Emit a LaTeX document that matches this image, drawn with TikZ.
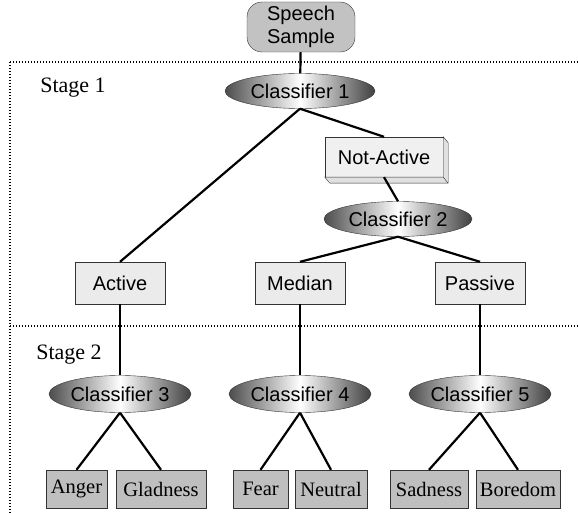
\documentclass[tikz,border=0pt]{standalone}
\usepackage{fontspec}
\setmainfont{Liberation Serif}
\setsansfont{Liberation Sans}
\usetikzlibrary{shapes.geometric}
\begin{document}
\begin{tikzpicture}[x=1pt,y=-1pt]
	\tikzstyle{classifier}=[ellipse,draw=black!80,left color=black!70,right color=black!75,middle color=white,minimum width=148pt,minimum height=35pt,inner sep=0pt,font=\sffamily\fontsize{20}{22}\selectfont]
	\tikzstyle{group}=[rectangle,draw=black!80,fill=black!8,minimum width=90pt,minimum height=42pt,inner sep=0pt,font=\sffamily\fontsize{20}{22}\selectfont]
	\tikzstyle{emotion}=[rectangle,draw=black!80,fill=black!25,minimum height=38pt,inner sep=0pt,font=\rmfamily\fontsize{20.5}{22}\selectfont]
	\tikzstyle{stage}=[font=\rmfamily\fontsize{22}{24}\selectfont]
	\tikzstyle{link}=[line width=2.2pt]
	\tikzstyle{sep}=[black,line width=1.1pt,dash pattern=on 1.1pt off 1.9pt]
	\useasboundingbox (0,0) rectangle (578,513);
	\draw[sep] (10,62) -- (578,62) (10,62) -- (10,513) (10,326) -- (578,326);
	\node[stage] (s_1) at (73,88) {Stage 1};
	\node[stage] (s_2) at (69,355) {Stage 2};
	\node[rectangle,rounded corners=15pt,draw=black!80,fill=black!24,minimum width=108pt,minimum height=50pt,inner sep=0pt,align=center,font=\sffamily\fontsize{20}{23}\selectfont] (speech) at (301,27) {Speech\\Sample};
	\node[classifier,minimum width=150pt] (c_1) at (300,91) {Classifier 1};
	\node[group,fill=black!6,minimum width=118pt,minimum height=40pt] (na) at (384,157) {Not-Active};
	\draw[draw=black!80,fill=black!12] (na.north east) -- ++(5,6) |- ([shift={(5,6)}]na.south west) -- (na.south west) -- (na.south east) -- cycle (na.south east) -- ++(5,6);
	\node[classifier] (c_2) at (398,219) {Classifier 2};
	\node[group] (active) at (120,283) {Active};
	\node[group] (median) at (300,283) {Median};
	\node[group] (passive) at (480,283) {Passive};
	\node[classifier,minimum width=142pt,minimum height=37pt] (c_3) at (120,394) {Classifier 3};
	\node[classifier,minimum width=142pt,minimum height=37pt] (c_4) at (300,394) {Classifier 4};
	\node[classifier,minimum width=142pt,minimum height=37pt] (c_5) at (480,394) {Classifier 5};
	\node[emotion,minimum width=61pt] (anger) at (76.5,489) {Anger};
	\node[emotion,minimum width=90pt] (gladness) at (161,489) {Gladness};
	\node[emotion,minimum width=55pt] (fear) at (260.5,489) {Fear};
	\node[emotion,minimum width=72pt] (neutral) at (331,489) {Neutral};
	\node[emotion,minimum width=78pt] (sadness) at (429,489) {Sadness};
	\node[emotion,minimum width=84pt] (boredom) at (518,489) {Boredom};
	\draw[link] (speech) -- (c_1) (c_1.south) -- (active.north) (c_1.south) -- (na.north) (na.south) -- (c_2.north) (c_2.south) -- (median.north) (c_2.south) -- (passive.north);
	\draw[link] (active) -- (c_3) (median) -- (c_4) (passive) -- (c_5);
	\draw[link] (c_3.south) -- (anger.north) (c_3.south) -- (gladness.north) (c_4.south) -- (fear.north) (c_4.south) -- (neutral.north) (c_5.south) -- (sadness.north) (c_5.south) -- (boredom.north);
\end{tikzpicture}
\end{document}
